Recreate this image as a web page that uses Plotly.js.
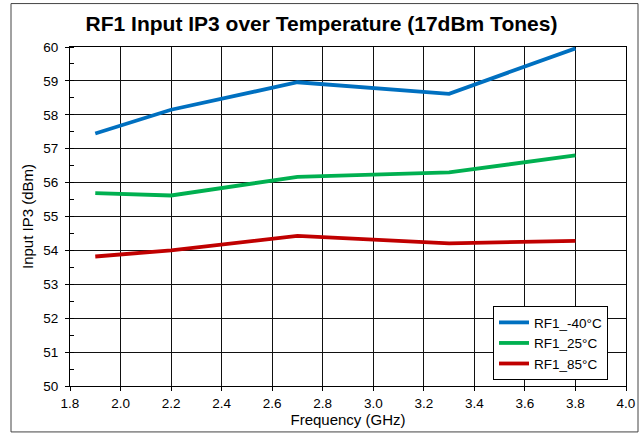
<!DOCTYPE html>
<html>
<head>
<meta charset="utf-8">
<script src="https://cdn.plot.ly/plotly-3.0.1.min.js"></script>
<style>
html,body{margin:0;padding:0;background:#fff;}
#chart{width:643px;height:434px;}
</style>
</head>
<body>
<div id="chart"></div>
<script>
const freqGHz = [1.9, 2.2, 2.7, 3.3, 3.8];
const rf1_m40 = [57.45, 58.15, 58.96, 58.62, 59.96];
const rf1_25  = [55.69, 55.62, 56.17, 56.30, 56.80];
const rf1_85  = [53.82, 54.00, 54.43, 54.21, 54.28];
const seriesNames = ["RF1_-40°C", "RF1_25°C", "RF1_85°C"];
const seriesColors = ["#0070C0", "#00B050", "#C00000"];
const seriesValues = [rf1_m40, rf1_25, rf1_85];

const traces = seriesValues.map((v, i) => ({
  x: freqGHz, y: v, type: 'scatter', mode: 'lines', name: seriesNames[i],
  line: {color: seriesColors[i], width: 3.8}
}));

const fontFam = 'Liberation Sans, Arial, sans-serif';
const layout = {
  width: 643, height: 434,
  margin: {l: 70, r: 17, t: 46.5, b: 48},
  paper_bgcolor: '#fff', plot_bgcolor: '#fff',
  font: {family: fontFam, size: 13.5, color: '#000'},
  title: {text: 'RF1 Input IP3 over Temperature (17dBm Tones)', font: {family: fontFam, size: 21, weight: 'bold', color: '#000'},
          x: 0.5, xref: 'container', xanchor: 'center', y: 1 - 24/434, yanchor: 'middle'},
  xaxis: {range: [1.8, 4.0], dtick: 0.2, tick0: 1.8, tickformat: '.1f',
          showgrid: true, gridcolor: '#111', gridwidth: 1,
          showline: true, linecolor: '#000', linewidth: 1, mirror: true,
          ticks: 'outside', ticklen: 4, tickcolor: '#000', zeroline: false,
          tickfont: {size: 13.5}, ticklabelstandoff: 1,
          title: {text: 'Frequency (GHz)', font: {size: 15}, standoff: 4}},
  yaxis: {range: [50, 60], dtick: 1, showgrid: true, gridcolor: '#111', gridwidth: 1,
          showline: true, linecolor: '#000', linewidth: 1, mirror: true,
          ticks: 'outside', ticklen: 4, tickcolor: '#000', zeroline: false,
          tickfont: {size: 13.5}, ticklabelstandoff: 4,
          minor: {dtick: 0.5, ticks: 'inside', ticklen: 4, tickcolor: '#000', showgrid: false},
          title: {text: 'Input IP3 (dBm)', font: {size: 15}, standoff: 6}},
  legend: {x: (493-70)/556, y: (386-306)/339.5, xanchor: 'left', yanchor: 'top',
           bgcolor: '#fff', bordercolor: '#000', borderwidth: 1,
           font: {size: 13.5}, tracegroupgap: 0, itemwidth: 30},
  showlegend: true,
  shapes: [{type: 'rect', xref: 'paper', yref: 'paper',
            x0: (11-70)/556, x1: (638-70)/556, y0: (386-432)/339.5, y1: (386-3)/339.5,
            line: {color: '#444', width: 1}, fillcolor: 'rgba(0,0,0,0)', layer: 'below'}]
};
Plotly.newPlot('chart', traces, layout, {displayModeBar: false, staticPlot: true});
</script>
</body>
</html>
